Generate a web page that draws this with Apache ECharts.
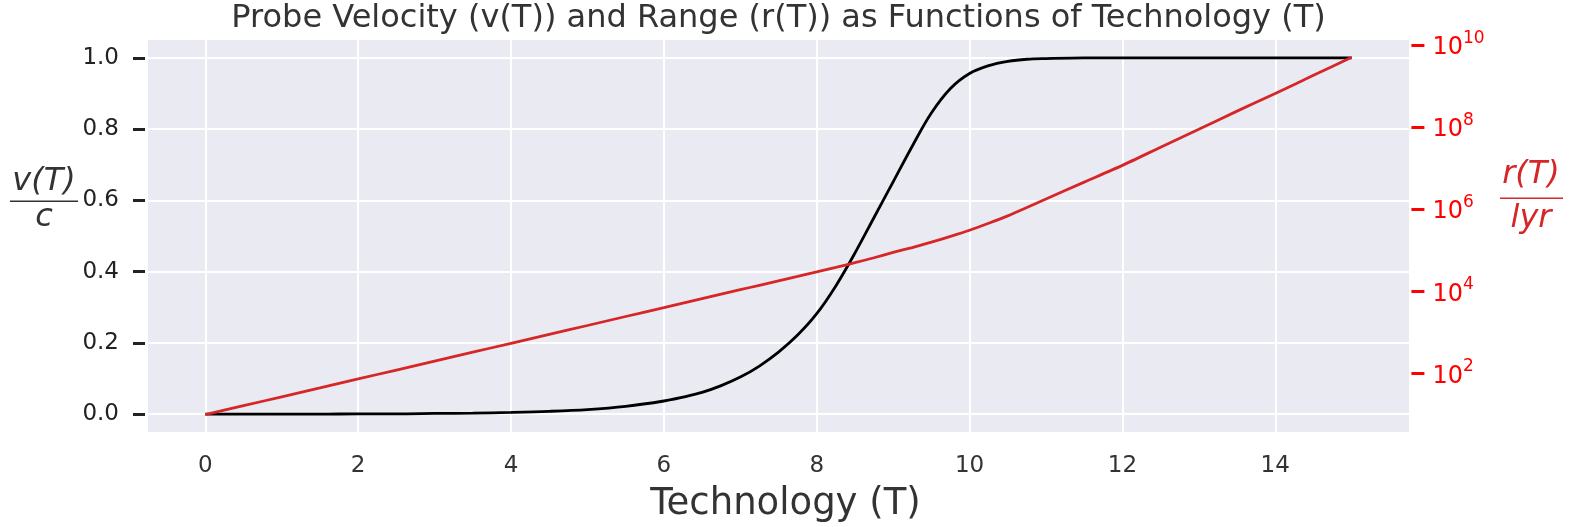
<!DOCTYPE html>
<html>
<head>
<meta charset="utf-8">
<script src="https://cdn.jsdelivr.net/npm/echarts@6/dist/echarts.min.js"></script>
<style>
  html, body { margin: 0; padding: 0; background: #ffffff; }
  #chart { width: 1578px; height: 527px; }
</style>
</head>
<body>
<div id="chart"></div>
<script>
// Technology level T
const tech = [
  0, 0.5, 1, 1.5, 2, 2.5, 3, 3.5, 4, 4.5, 5, 5.5, 6,
  6.25, 6.5, 6.75, 7, 7.25, 7.5, 7.75, 8, 8.25, 8.5, 8.75, 9,
  9.25, 9.5, 9.75, 10, 10.25, 10.5, 10.75, 11,
  11.5, 12, 12.5, 13, 13.5, 14, 14.5, 15
];
// Probe velocity as a fraction of c
const velocity = [
  0, 0, 0, 0, 0.001, 0.001, 0.002, 0.003, 0.005, 0.008, 0.013, 0.022, 0.037,
  0.048, 0.061, 0.080, 0.104, 0.135, 0.174, 0.222, 0.282, 0.36, 0.452, 0.552, 0.652,
  0.752, 0.845, 0.914, 0.956, 0.978, 0.99, 0.996, 0.998,
  1, 1, 1, 1, 1, 1, 1, 1
];
// Probe range in light years
const range = [
  10, 16.5, 27.2, 44.8, 73.9, 122, 201, 331, 546, 900, 1480, 2450, 4030,
  5180, 6650, 8550, 1.1e4, 1.41e4, 1.81e4, 2.32e4, 2.98e4, 3.85e4, 5.0e4, 6.6e4, 8.9e4,
  1.17e5, 1.58e5, 2.19e5, 3.09e5, 4.57e5, 6.9e5, 1.1e6, 1.78e6,
  4.57e6, 1.17e7, 3.24e7, 8.9e7, 2.45e8, 6.6e8, 1.82e9, 5.0e9
];
// Tick positions
const xTicks = [0, 2, 4, 6, 8, 10, 12, 14];
const vTicks = [0, 0.2, 0.4, 0.6, 0.8, 1.0];
const rTicks = [1e2, 1e4, 1e6, 1e8, 1e10];

const FONT = '"DejaVu Sans", sans-serif';
const TEXT = '#333333';
const RED_LINE = '#d62728';

// plot area
const GRID = { left: 148, right: 169, top: 40, bottom: 95 };
const plotCenterX = GRID.left + (1578 - GRID.left - GRID.right) / 2;

const chart = echarts.init(document.getElementById('chart'), null, { renderer: 'canvas' });

chart.setOption({
  animation: false,
  backgroundColor: '#ffffff',
  grid: Object.assign({
    show: true, backgroundColor: '#eaeaf2', borderWidth: 0,
    containLabel: false, outerBoundsMode: 'none'
  }, GRID),
  xAxis: {
    type: 'value',
    min: -0.75, max: 15.75,
    name: 'Technology (T)',
    nameLocation: 'middle',
    nameGap: 54,
    nameTextStyle: { fontFamily: FONT, fontSize: 37, color: TEXT, padding: [0, 0, 0, 14] },
    axisLine: { show: false, onZero: false },
    axisTick: { show: false, customValues: xTicks },
    axisLabel: {
      customValues: xTicks,
      fontFamily: FONT, fontSize: 23, color: TEXT, margin: 23,
      formatter: v => String(v)
    },
    splitLine: { show: true, lineStyle: { color: '#ffffff', width: 2 } }
  },
  yAxis: [
    {
      type: 'value',
      position: 'left',
      min: -0.05, max: 1.05,
      offset: 3,
      axisLine: { show: false, onZero: false },
      axisTick: { show: true, customValues: vTicks, length: 12, lineStyle: { color: '#222222', width: 3 } },
      axisLabel: {
        customValues: vTicks,
        fontFamily: FONT, fontSize: 23, color: '#222222', margin: 26,
        formatter: v => v.toFixed(1)
      },
      splitLine: { show: true, lineStyle: { color: '#ffffff', width: 2 } }
    },
    {
      type: 'log',
      logBase: 10,
      position: 'right',
      min: 3.78, max: 1.32e10,
      offset: 2.4,
      axisLine: { show: false, onZero: false },
      axisTick: { show: true, customValues: rTicks, length: 13, lineStyle: { color: '#ff0000', width: 3 } },
      axisLabel: {
        customValues: rTicks,
        margin: 21,
        formatter: v => '{b|10}{s|' + Math.round(Math.log10(v)) + '}',
        rich: {
          b: { fontFamily: FONT, fontSize: 24, color: '#ff0000', lineHeight: 30, verticalAlign: 'bottom' },
          s: { fontFamily: FONT, fontSize: 17, color: '#ff0000', lineHeight: 18, verticalAlign: 'top' }
        }
      },
      splitLine: { show: false }
    }
  ],
  series: [
    {
      name: 'v(T)/c',
      type: 'line',
      yAxisIndex: 0,
      data: tech.map((t, i) => [t, velocity[i]]),
      showSymbol: false,
      smooth: 0.35,
      lineStyle: { color: '#000000', width: 2.8 },
      itemStyle: { color: '#000000' },
      z: 3
    },
    {
      name: 'r(T)/lyr',
      type: 'line',
      yAxisIndex: 1,
      data: tech.map((t, i) => [t, range[i]]),
      showSymbol: false,
      smooth: 0.2,
      lineStyle: { color: RED_LINE, width: 2.8 },
      itemStyle: { color: RED_LINE },
      z: 4
    }
  ],
  graphic: [
    // title, centred over the plot area
    { type: 'text', style: { x: plotCenterX, y: 19, text: 'Probe Velocity (v(T)) and Range (r(T)) as Functions of Technology (T)', align: 'center', verticalAlign: 'middle', font: '32px ' + FONT, fill: TEXT } },
    // left axis label: v(T) over c
    { type: 'text', style: { x: 44, y: 182, text: 'v(T)', align: 'center', verticalAlign: 'middle', font: 'italic 32px ' + FONT, fill: TEXT } },
    { type: 'rect', shape: { x: 10, y: 200.5, width: 68, height: 1.6 }, style: { fill: TEXT } },
    { type: 'text', style: { x: 44, y: 218, text: 'c', align: 'center', verticalAlign: 'middle', font: 'italic 32px ' + FONT, fill: TEXT } },
    // right axis label: r(T) over lyr
    { type: 'text', style: { x: 1531, y: 175, text: 'r(T)', align: 'center', verticalAlign: 'middle', font: 'italic 32px ' + FONT, fill: RED_LINE } },
    { type: 'rect', shape: { x: 1500, y: 197.5, width: 63, height: 1.6 }, style: { fill: RED_LINE } },
    { type: 'text', style: { x: 1531, y: 219, text: 'lyr', align: 'center', verticalAlign: 'middle', font: 'italic 32px ' + FONT, fill: RED_LINE } }
  ]
});
</script>
</body>
</html>
